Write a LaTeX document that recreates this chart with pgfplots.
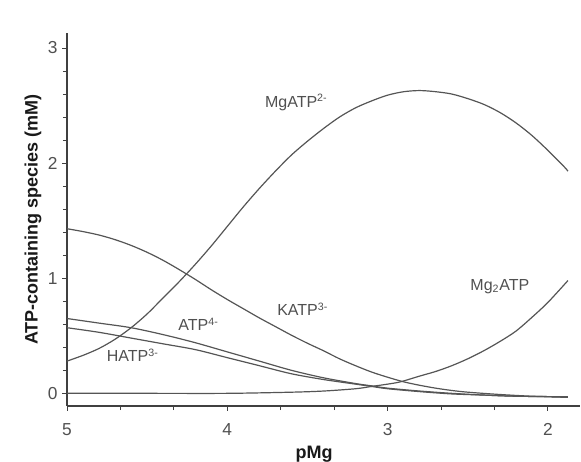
\documentclass[border=0pt]{standalone}
\usepackage{pgfplots}
\pgfplotsset{compat=1.18}
\usepackage{fontspec}
\setmainfont{Liberation Sans}
\definecolor{crv}{HTML}{555555}
\definecolor{txt}{HTML}{505050}
\tikzset{curve/.style={draw=crv, line width=0.9pt, smooth, mark=none}}
\begin{document}
\begin{tikzpicture}[x=1pt,y=1pt]
\begin{axis}[name=ax,
  scale only axis, width=384.75pt, height=279.75pt,
  x dir=reverse, xmin=1.80, xmax=5, ymin=-0.11, ymax=3.13,
  axis x line*=bottom, axis y line*=left,
  axis line style={-, color=black!75, line width=0.8pt},
  xtick={2,3,4,5}, ytick={0,1,2,3},
  minor x tick num=2, minor y tick num=4,
  tick align=outside, tick style={color=black!75, line width=0.7pt},
  major tick length=3.5pt, minor tick length=3pt,
  /pgf/number format/assume math mode=true,
  tick label style={font=\fontsize{13}{15}\selectfont, text=txt},
  xticklabel style={yshift=-6pt},
  xlabel={\textbf{pMg}}, ylabel={\textbf{ATP-containing species (mM)}},
  label style={font=\fontsize{13.5}{16}\selectfont, text=black!90},
  xlabel style={yshift=-1pt, xshift=-7pt},
  ylabel style={yshift=-2pt},
  clip=false,
]
\addplot[curve] coordinates {(5.00,0.28)(4.90,0.33)(4.80,0.39)(4.70,0.47)(4.60,0.57)(4.50,0.69)(4.40,0.83)(4.30,0.97)(4.20,1.12)(4.10,1.28)(4.00,1.45)(3.90,1.62)(3.80,1.78)(3.70,1.93)(3.60,2.07)(3.50,2.19)(3.40,2.30)(3.30,2.40)(3.20,2.48)(3.10,2.54)(3.00,2.59)(2.90,2.62)(2.80,2.63)(2.70,2.62)(2.60,2.60)(2.50,2.56)(2.40,2.51)(2.30,2.44)(2.20,2.35)(2.10,2.24)(2.00,2.11)(1.90,1.97)(1.875,1.93)};
\addplot[curve] coordinates {(5.00,1.43)(4.90,1.405)(4.80,1.375)(4.70,1.335)(4.60,1.285)(4.50,1.225)(4.40,1.155)(4.30,1.075)(4.20,0.99)(4.10,0.90)(4.00,0.815)(3.90,0.735)(3.80,0.655)(3.70,0.58)(3.60,0.505)(3.50,0.435)(3.40,0.37)(3.30,0.30)(3.20,0.24)(3.10,0.185)(3.00,0.14)(2.90,0.10)(2.80,0.07)(2.70,0.045)(2.60,0.025)(2.50,0.01)(2.30,-0.01)(2.10,-0.025)(1.875,-0.035)};
\addplot[curve] coordinates {(5.00,0.65)(4.80,0.61)(4.60,0.57)(4.40,0.51)(4.20,0.44)(4.00,0.36)(3.80,0.28)(3.60,0.20)(3.40,0.135)(3.20,0.085)(3.10,0.065)(3.00,0.045)(2.80,0.02)(2.60,0.0)(2.40,-0.015)(2.20,-0.025)(1.875,-0.03)};
\addplot[curve] coordinates {(5.00,0.57)(4.80,0.53)(4.60,0.48)(4.40,0.43)(4.20,0.38)(4.00,0.31)(3.80,0.24)(3.60,0.17)(3.40,0.12)(3.20,0.08)(3.10,0.06)(3.00,0.04)(2.80,0.015)(2.60,-0.005)(2.40,-0.015)(2.20,-0.025)(1.875,-0.03)};
\addplot[curve] coordinates {(5.00,0.00)(4.50,0.00)(4.00,0.00)(3.60,0.01)(3.40,0.02)(3.20,0.04)(3.10,0.06)(3.00,0.08)(2.92,0.10)(2.80,0.15)(2.70,0.19)(2.60,0.24)(2.50,0.30)(2.40,0.37)(2.30,0.45)(2.20,0.54)(2.10,0.66)(2.00,0.79)(1.875,0.98)};
\begin{scope}[every node/.style={font=\fontsize{12}{14}\selectfont, text=txt, inner sep=0pt}]
\node at (axis cs:3.57,2.53) {MgATP\textsuperscript{2-}};
\node at (axis cs:3.53,0.73) {KATP\textsuperscript{3-}};
\node at (axis cs:4.18,0.60) {ATP\textsuperscript{4-}};
\node at (axis cs:4.59,0.33) {HATP\textsuperscript{3-}};
\node at (axis cs:2.30,0.93) {Mg\textsubscript{2}ATP};
\end{scope}
\end{axis}
\pgfresetboundingbox
\path ([shift={(-50.25pt,-41.25pt)}]ax.south west) rectangle ([shift={(0.75pt,24.75pt)}]ax.north east);
\end{tikzpicture}
\end{document}
